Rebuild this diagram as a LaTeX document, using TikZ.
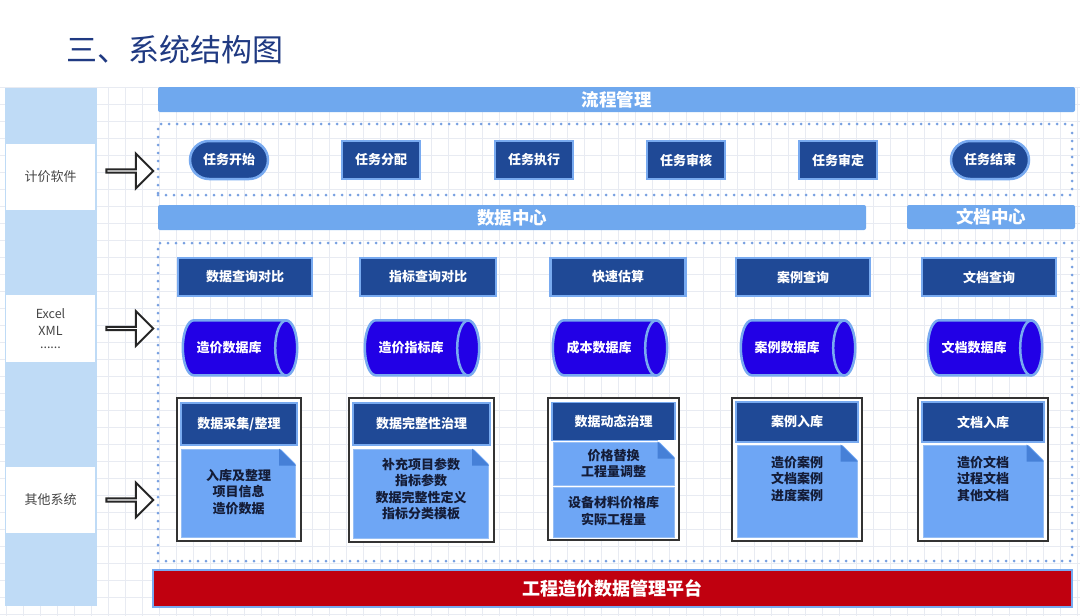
\documentclass[tikz,border=0pt]{standalone}
\usepackage{fontspec}
\setmainfont{Noto Sans CJK SC}
\usetikzlibrary{shapes.geometric,shapes.arrows}
\definecolor{navy}{RGB}{31,73,150}
\definecolor{edgeblue}{RGB}{120,170,240}
\definecolor{barblue}{RGB}{111,168,238}
\definecolor{panelblue}{RGB}{191,219,246}
\definecolor{cylfill}{RGB}{34,0,230}
\definecolor{docblue}{RGB}{110,166,245}
\definecolor{docedge}{RGB}{150,190,245}
\definecolor{folddark}{RGB}{70,128,215}
\definecolor{dotblue}{RGB}{120,160,225}
\definecolor{titleblue}{RGB}{32,58,130}
\definecolor{platred}{RGB}{192,0,15}
\definecolor{gridgray}{RGB}{232,235,242}
\definecolor{doctext}{RGB}{20,28,55}
\definecolor{labelgray}{RGB}{70,70,70}
\newcommand{\docfold}[1]{%
  \fill[white] (#1.north east) ++(-17,-1.5) -- ++(18.5,0) -- ++(0,18.5) -- cycle;
  \fill[folddark] (#1.north east) ++(-17,0) -- ++(17,17) -- ++(-17,0) -- cycle;}
% database cylinder: name, x, y, text
\newcommand{\dbcyl}[4]{%
  \node[inner sep=0, minimum width=114, minimum height=55] (#1) at (#2,#3) {};
  \filldraw[cylshape] (#1.north west) ++(11,0) -- ++(92,0)
     arc[start angle=-90, end angle=90, x radius=11, y radius=27.5]
     -- ++(-92,0)
     arc[start angle=90, end angle=270, x radius=11, y radius=27.5] -- cycle;
  \draw[cylshape] (#1.east) ++(-11,0) ellipse[x radius=11, y radius=27.5];
  \node[cyltxt] at (#2-11,#3) {#4};}
\tikzset{
  bar/.style={fill=barblue, text=white, rounded corners=2, inner sep=0,
    font=\bfseries\fontsize{17.5}{17.5}\selectfont},
  dotbox/.style={draw=dotblue, line width=3, dash pattern=on 0pt off 8pt,
    line cap=round, inner sep=0},
  darkbox/.style={fill=navy, draw=edgeblue, line width=2.5, text=white, inner sep=0,
    font=\bfseries\fontsize{13}{13}\selectfont},
  taskbox/.style={darkbox, minimum width=78, minimum height=38},
  taskpill/.style={taskbox, rounded corners=19},
  querybox/.style={darkbox, minimum height=38},
  cylshape/.style={fill=cylfill, draw=edgeblue, line width=2.5},
  cyltxt/.style={text=white, inner sep=0, font=\bfseries\fontsize{13}{13}\selectfont},
  frame/.style={draw=black!80, line width=2.2, fill=white, inner sep=0},
  hdr/.style={darkbox, line width=1.8},
  doc/.style={fill=docblue, draw=docedge, line width=1, inner sep=0},
  doctxt/.style={text=doctext, align=center, inner sep=0,
    font=\bfseries\fontsize{13}{16.5}\selectfont},
  leftlbl/.style={fill=white, minimum width=89, minimum height=66, inner sep=0,
    text=labelgray, align=center, font=\fontsize{13}{17}\selectfont},
  inarrow/.style={single arrow, draw=black!85, line width=2, fill=white,
    minimum height=47, minimum width=35, single arrow head extend=10.5, inner sep=0},
  gridline/.style={gridgray, line width=0.6}
}
\begin{document}
\begin{tikzpicture}[x=1pt,y=-1pt]
\useasboundingbox (0,0) rectangle (1080,616);
\fill[white] (0,0) rectangle (1080,616);
% grid
\foreach \i in {0,...,63} \draw[gridline] (6+17*\i,87) -- (6+17*\i,616);
\foreach \j in {5,...,36} \draw[gridline] (0,2+17*\j) -- (1080,2+17*\j);
% title
\node[anchor=west, text=titleblue, inner sep=0, font=\fontsize{31}{31}\selectfont] (title) at (66,50) {三、系统结构图};
% left panel
\node[fill=panelblue, minimum width=92, minimum height=518, inner sep=0] (panel) at (51,347) {};
\node[leftlbl] (src1) at (50.5,177) {计价软件};
\node[leftlbl, minimum height=67, font=\fontsize{12.5}{17}\selectfont] (src2) at (50.5,328.5) {Excel\\XML\\[-4pt]......};
\node[leftlbl] (src3) at (50.5,499.5) {其他系统};
% input arrows
\node[inarrow] (a1) at (129,171) {};
\node[inarrow] (a2) at (129,328.5) {};
\node[inarrow] (a3) at (129,500) {};
% process management
\node[bar, minimum width=917, minimum height=25] (flowbar) at (616.5,99.5) {流程管理};
\node[dotbox, minimum width=914, minimum height=71] (flowbox) at (615,159.5) {};
\node[taskpill] (t1) at (229,160) {任务开始};
\node[taskbox] (t2) at (381,160) {任务分配};
\node[taskbox] (t3) at (534,160) {任务执行};
\node[taskbox] (t4) at (686,160) {任务审核};
\node[taskbox] (t5) at (838,160) {任务审定};
\node[taskpill] (t6) at (990,160) {任务结束};
% centers
\node[bar, minimum width=708, minimum height=25] (databar) at (512,217.5) {数据中心};
\node[bar, minimum width=168, minimum height=24] (docbar) at (991,217) {文档中心};
\node[dotbox, minimum width=914, minimum height=318] (databox) at (615,402) {};
% queries
\node[querybox, minimum width=134] (q1) at (245,277) {数据查询对比};
\node[querybox, minimum width=136] (q2) at (428,277) {指标查询对比};
\node[querybox, minimum width=135] (q3) at (618,277) {快速估算};
\node[querybox, minimum width=134] (q4) at (803,277) {案例查询};
\node[querybox, minimum width=134] (q5) at (989,277) {文档查询};
% databases
\dbcyl{c1}{240}{348}{造价数据库}
\dbcyl{c2}{422}{348}{造价指标库}
\dbcyl{c3}{610}{348}{成本数据库}
\dbcyl{c4}{798}{348}{案例数据库}
\dbcyl{c5}{985}{348}{文档数据库}
% block 1
\node[frame, minimum width=124, minimum height=143] (f1) at (239,469.5) {};
\node[hdr, minimum width=116, minimum height=42] (h1) at (239,424) {数据采集/整理};
\node[doc, minimum width=114, minimum height=88] (d1) at (238.5,493) {};
\docfold{d1}
\node[doctxt] (x1) at (238.5,492) {入库及整理\\项目信息\\造价数据};
% block 2
\node[frame, minimum width=145, minimum height=144] (f2) at (421.5,470) {};
\node[hdr, minimum width=137, minimum height=42] (h2) at (421.5,424) {数据完整性治理};
\node[doc, minimum width=135, minimum height=89] (d2) at (421,493.5) {};
\docfold{d2}
\node[doctxt] (x2) at (421,489) {补充项目参数\\指标参数\\数据完整性定义\\指标分类模板};
% block 3
\node[frame, minimum width=131, minimum height=142] (f3) at (613.5,469) {};
\node[hdr, minimum width=123, minimum height=38] (h3) at (613.5,421.5) {数据动态治理};
\node[doc, minimum width=121, minimum height=43] (d3) at (613.5,463.5) {};
\docfold{d3}
\node[doctxt] (x3) at (613.5,463.5) {价格替换\\工程量调整};
\node[doc, minimum width=121, minimum height=50] (d3b) at (613.5,512) {};
\node[doctxt] (x3b) at (613.5,511) {设备材料价格库\\实际工程量};
% block 4
\node[frame, minimum width=130, minimum height=143] (f4) at (797,469.5) {};
\node[hdr, minimum width=122, minimum height=40] (h4) at (797,422) {案例入库};
\node[doc, minimum width=120, minimum height=92] (d4) at (797,491) {};
\docfold{d4}
\node[doctxt, anchor=north] (x4) at (797,456) {造价案例\\文档案例\\进度案例};
% block 5
\node[frame, minimum width=130, minimum height=143] (f5) at (983,469.5) {};
\node[hdr, minimum width=122, minimum height=40] (h5) at (983,422) {文档入库};
\node[doc, minimum width=120, minimum height=92] (d5) at (983,491) {};
\docfold{d5}
\node[doctxt, anchor=north] (x5) at (983,456) {造价文档\\过程文档\\其他文档};
% platform
\node[fill=platred, draw=edgeblue, line width=2, minimum width=919, minimum height=37,
  inner sep=0, text=white, font=\bfseries\fontsize{18}{18}\selectfont] (platform) at (612.5,588.5) {工程造价数据管理平台};
\end{tikzpicture}
\end{document}
